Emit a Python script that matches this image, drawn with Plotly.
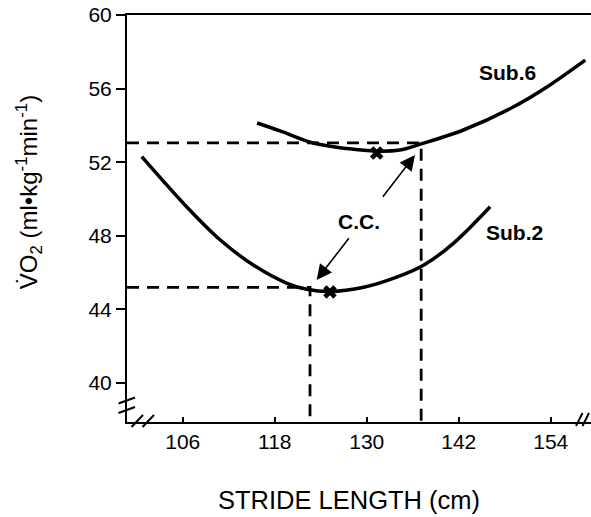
import plotly.graph_objects as go

# ---- data ----
sub2_x = [100.65, 106.5, 110.9, 115.2, 119.6, 122.2, 125.2, 129.6, 133.9, 137.4, 141.3, 146.1]
sub2_y = [52.30, 49.58, 47.77, 46.41, 45.42, 45.09, 44.97, 45.20, 45.75, 46.40, 47.59, 49.58]

sub6_x = [115.7, 118.7, 123.0, 127.4, 131.3, 134.3, 137.3, 142.6, 149.1, 153.5, 158.5]
sub6_y = [54.13, 53.70, 53.04, 52.74, 52.60, 52.66, 53.02, 53.75, 55.00, 56.09, 57.55]

min_x = [125.2, 131.3]          # X markers (minimum VO2)
min_y = [44.95, 52.50]

cc_x = [122.6, 137.1]            # critical (C.C.) stride lengths
cc_y = [45.2, 53.05]

x_range = [98.73, 159.25]
y_range = [37.88, 60.0]
x_ticks = [106, 118, 130, 142, 154]
y_ticks = [40, 44, 48, 52, 56, 60]

label_text = ["Sub.6", "Sub.2", "C.C."]
label_x = [148.4, 149.3, 129.0]
label_y = [56.85, 48.18, 48.78]

arrow_tail_x = [131.95, 127.82]
arrow_tail_y = [50.04, 47.95]
arrow_tip_x = [136.29, 123.47]
arrow_tip_y = [52.39, 45.60]

FONT = "Liberation Sans, Arial, Helvetica, sans-serif"

fig = go.Figure()

# dashed guide lines (horizontal to axis, vertical to axis)
for cx, cy in zip(cc_x, cc_y):
    fig.add_trace(go.Scatter(
        x=[x_range[0], cx, cx], y=[cy, cy, y_range[0]],
        mode="lines", line=dict(color="black", width=2.8, dash="12px,8px"),
        hoverinfo="skip", showlegend=False))

# curves
for xs, ys in [(sub2_x, sub2_y), (sub6_x, sub6_y)]:
    fig.add_trace(go.Scatter(
        x=xs, y=ys, mode="lines",
        line=dict(color="black", width=3.5, shape="spline", smoothing=0.9),
        showlegend=False))

# minimum markers
fig.add_trace(go.Scatter(
    x=min_x, y=min_y, mode="markers",
    marker=dict(symbol="x", size=12, color="black", line=dict(width=0)),
    showlegend=False))

# labels
for t, lx, ly in zip(label_text, label_x, label_y):
    fig.add_annotation(x=lx, y=ly, text=f"<b>{t}</b>", showarrow=False,
                       font=dict(family=FONT, size=21, color="black"),
                       xanchor="center", yanchor="middle")

# arrows
for tx, ty, hx, hy in zip(arrow_tail_x, arrow_tail_y, arrow_tip_x, arrow_tip_y):
    fig.add_annotation(x=hx, y=hy, ax=tx, ay=ty, xref="x", yref="y",
                       axref="x", ayref="y", text="", showarrow=True,
                       arrowhead=2, arrowsize=1.9, arrowwidth=1.6,
                       arrowcolor="black", standoff=0)

# axis titles
fig.add_annotation(xref="paper", yref="paper", x=0.4784, y=-0.192,
                   text="STRIDE LENGTH (cm)", showarrow=False,
                   font=dict(family=FONT, size=25.5, color="black"),
                   xanchor="center", yanchor="middle")
fig.add_annotation(xref="paper", yref="paper", x=-0.211, y=0.565,
                   text="V\u0307O<sub>2</sub> (ml\u2022kg<sup>-1</sup>min<sup>-1</sup>)",
                   textangle=-90, showarrow=False,
                   font=dict(family=FONT, size=24, color="black"),
                   xanchor="center", yanchor="middle")

# axis break marks (decoration, paper coordinates)
W, H = 464.0, 407.0
def px(xp):
    return (xp - 127) / W
def py(yp):
    return (422 - yp) / H
breaks = [
    ((118.5, 403.5), (135, 397.5)),
    ((118.5, 413.0), (135, 407.0)),
    ((131.5, 427.0), (143.0, 415.0)),
    ((142.5, 427.0), (154.0, 415.0)),
    ((576.0, 426.0), (582.5, 413.0)),
    ((582.5, 426.0), (589.0, 413.0)),
]
for (x0, y0), (x1, y1) in breaks:
    fig.add_shape(type="line", xref="paper", yref="paper",
                  x0=px(x0), y0=py(y0), x1=px(x1), y1=py(y1),
                  line=dict(color="black", width=2))

fig.update_layout(
    width=591, height=517,
    margin=dict(l=127, r=0, t=15, b=95),
    plot_bgcolor="white", paper_bgcolor="white",
    showlegend=False,
    font=dict(family=FONT, color="black"),
)
fig.update_xaxes(
    range=x_range, tickvals=x_ticks, ticktext=[str(v) for v in x_ticks],
    showgrid=False, zeroline=False,
    showline=True, linecolor="black", linewidth=2, mirror=True,
    ticks="inside", ticklen=5, tickwidth=2, tickcolor="black",
    tickfont=dict(family=FONT, size=21, color="black"),
    ticklabelstandoff=0,
)
fig.update_yaxes(
    range=y_range, tickvals=y_ticks, ticktext=[str(v) for v in y_ticks],
    showgrid=False, zeroline=False,
    showline=True, linecolor="black", linewidth=2,
    ticks="outside", ticklen=9, tickwidth=2, tickcolor="black",
    tickfont=dict(family=FONT, size=21, color="black"),
    ticklabelstandoff=0,
)

fig.write_html("out.html")
